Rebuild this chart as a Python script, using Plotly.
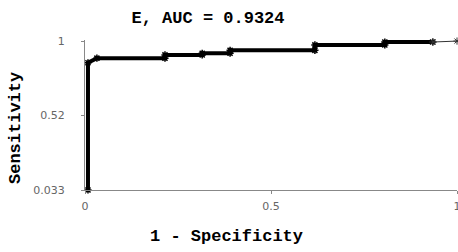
import plotly.graph_objects as go

# ROC curve vertices (1 - specificity, sensitivity)
fpr_main = [0.008, 0.008, 0.032, 0.215, 0.215, 0.315, 0.315, 0.390, 0.390, 0.618, 0.618, 0.806, 0.806, 0.935]
tpr_main = [0.033, 0.859, 0.889, 0.889, 0.910, 0.910, 0.921, 0.921, 0.940, 0.940, 0.975, 0.975, 0.994, 0.994]
fpr_tail = [0.935, 1.0]
tpr_tail = [0.994, 1.0]

x_ticks = [0, 0.5, 1]
x_tick_labels = ["0", "0.5", "1"]
y_ticks = [0.033, 0.52, 1]
y_tick_labels = ["0.033", "0.52", "1"]

title_text = "E, AUC = 0.9324"
x_title = "1 - Specificity"
y_title = "Sensitivity"

W, H = 458, 252
L, R, T, B = 85, 1, 40, 62
PW, PH = W - L - R, H - T - B

fig = go.Figure()
fig.add_trace(go.Scatter(
    x=fpr_main, y=tpr_main, mode="lines+markers",
    line=dict(color="black", width=4),
    marker=dict(symbol="asterisk-open", size=6, color="black", line=dict(width=1.5, color="black")),
    cliponaxis=False, showlegend=False))
fig.add_trace(go.Scatter(
    x=fpr_tail, y=tpr_tail, mode="lines+markers",
    line=dict(color="#333333", width=1),
    marker=dict(symbol="asterisk-open", size=6, color="#333333", line=dict(width=1, color="#333333")),
    cliponaxis=False, showlegend=False))

fig.update_layout(
    width=W, height=H,
    margin=dict(l=L, r=R, t=T, b=B, autoexpand=False),
    paper_bgcolor="white", plot_bgcolor="white",
    title=dict(text="<b>" + title_text + "</b>", x=208/W, xref="container", xanchor="center",
               y=1-17/H, yref="container", yanchor="middle", automargin=False,
               font=dict(family="Liberation Mono", size=17, color="black")),
    xaxis=dict(range=[0, 1], tickvals=x_ticks, ticktext=x_tick_labels, automargin=False,
               showgrid=False, zeroline=False, showline=True, linecolor="#888888", linewidth=1,
               ticks="outside", ticklen=3, tickcolor="#888888", ticklabelstandoff=3,
               ticklabeloverflow="allow",
               tickfont=dict(family="DejaVu Sans", size=11, color="#666666")),
    yaxis=dict(range=[0.033, 1.007], tickvals=y_ticks, ticktext=y_tick_labels, automargin=False,
               showgrid=False, zeroline=False, showline=True, linecolor="#888888", linewidth=1,
               ticks="outside", ticklen=3, tickcolor="#888888", ticklabelstandoff=14,
               tickfont=dict(family="DejaVu Sans", size=11, color="#666666")),
    annotations=[
        dict(text="<b>" + x_title + "</b>", xref="paper", yref="paper", x=(226-L)/PW, y=-46/PH,
             xanchor="center", yanchor="middle", showarrow=False,
             font=dict(family="Liberation Mono", size=17, color="black")),
        dict(text="<b>" + y_title + "</b>", xref="paper", yref="paper", x=-(L-15)/PW, y=62/PH,
             xanchor="center", yanchor="middle", showarrow=False, textangle=-90,
             font=dict(family="Liberation Mono", size=17, color="black")),
    ],
)

fig.write_html("out.html", config={"displayModeBar": False},
               post_script="document.body.style.margin='0';document.body.style.overflow='hidden';")
